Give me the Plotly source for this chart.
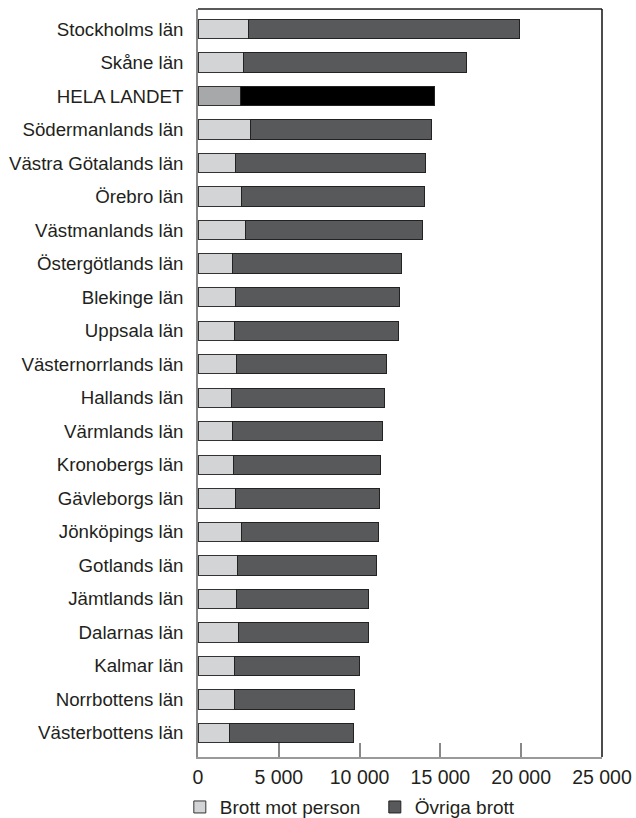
import plotly.graph_objects as go

categories = [
    "Stockholms län", "Skåne län", "HELA LANDET", "Södermanlands län",
    "Västra Götalands län", "Örebro län", "Västmanlands län", "Östergötlands län",
    "Blekinge län", "Uppsala län", "Västernorrlands län", "Hallands län",
    "Värmlands län", "Kronobergs län", "Gävleborgs län", "Jönköpings län",
    "Gotlands län", "Jämtlands län", "Dalarnas län", "Kalmar län",
    "Norrbottens län", "Västerbottens län",
]
brott_mot_person = [3110, 2800, 2620, 3220, 2310, 2700, 2950, 2140,
                    2330, 2250, 2410, 2060, 2120, 2190, 2350, 2720,
                    2430, 2410, 2520, 2250, 2230, 1940]
totalt = [19910, 16640, 14660, 14430, 14100, 14040, 13870, 12620,
          12450, 12410, 11690, 11560, 11420, 11280, 11260, 11150,
          11070, 10580, 10560, 10000, 9710, 9650]
ovriga_brott = [t - p for t, p in zip(totalt, brott_mot_person)]

x_ticks = [0, 5000, 10000, 15000, 20000, 25000]

light = "#d3d4d6"
dark = "#58595b"
light_total = "#a7a8aa"
dark_total = "#000000"

c1 = [light_total if c == "HELA LANDET" else light for c in categories]
c2 = [dark_total if c == "HELA LANDET" else dark for c in categories]

fig = go.Figure()
fig.add_trace(go.Bar(
    y=categories, x=brott_mot_person, orientation="h", name="Brott mot person",
    marker=dict(color=c1, line=dict(color="#333333", width=1)), width=0.58,
))
fig.add_trace(go.Bar(
    y=categories, x=ovriga_brott, orientation="h", name="Övriga brott",
    marker=dict(color=c2, line=dict(color="#222222", width=1)), width=0.58,
))

fig.update_layout(
    width=636, height=818,
    barmode="stack",
    plot_bgcolor="white", paper_bgcolor="white",
    margin=dict(l=198, r=34, t=9, b=61, autoexpand=False),
    separators=", ",
    font=dict(family="Liberation Sans, Arial, sans-serif", color="#231f20"),
    showlegend=True,
    legend=dict(orientation="h", x=-0.045, xanchor="left", y=-0.067, yanchor="middle",
                font=dict(size=19), traceorder="normal", entrywidth=150,
                bgcolor="rgba(0,0,0,0)"),
    xaxis=dict(range=[0, 25000], tickvals=x_ticks, tickformat=",d", automargin=False,
               showgrid=False, zeroline=False, showline=True, linecolor="#999999",
               linewidth=1.5, ticks="inside", ticklen=14, tickcolor="#888888",
               tickwidth=1.5, tickfont=dict(size=19.5), ticklabelstandoff=2),
    yaxis=dict(type="category", range=[len(categories) - 1 + 0.72, -0.6], automargin=False,
               showgrid=False, zeroline=False, showline=True, linecolor="#888888",
               linewidth=1.5, ticks="", tickfont=dict(size=18.7), ticklabelstandoff=9),
    shapes=[
        dict(type="line", xref="paper", yref="paper", x0=0, x1=1, y0=1, y1=1,
             line=dict(color="#222222", width=1.5)),
        dict(type="line", xref="paper", yref="paper", x0=1, x1=1, y0=0, y1=1,
             line=dict(color="#111111", width=1.5)),
    ],
)

fig.write_html("out.html", config={"displayModeBar": False},
               post_script="document.body.style.margin='0';document.body.style.overflow='hidden';")
